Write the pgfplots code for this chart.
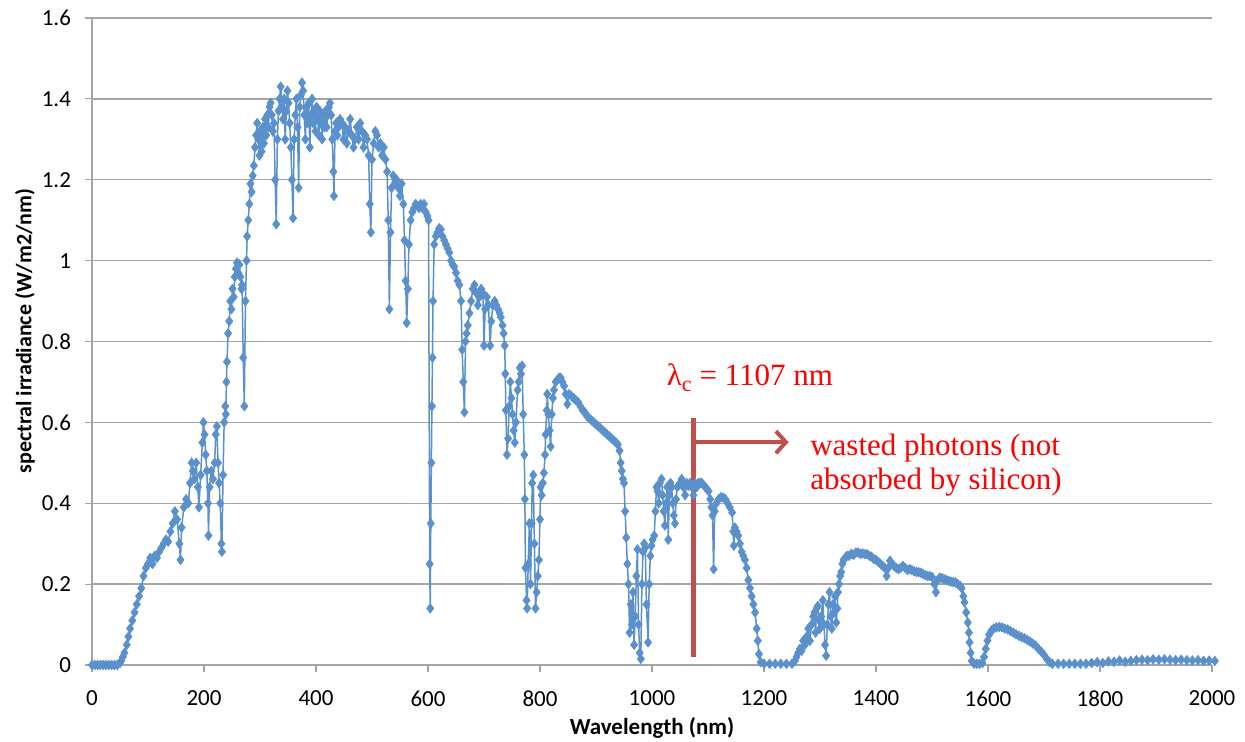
\documentclass[border=0pt]{standalone}
\usepackage{fontspec}
\setmainfont{Carlito}
\newfontfamily\annot{Liberation Serif}
\usepackage{pgfplots}
\pgfplotsset{compat=1.18}
\usetikzlibrary{arrows.meta}
\definecolor{serblue}{RGB}{90,145,205}
\definecolor{gridgray}{RGB}{165,165,165}
\definecolor{annred}{RGB}{192,80,77}
\begin{document}
\begin{tikzpicture}
\useasboundingbox (-46pt,-38.5pt) rectangle (576.5pt,332.5pt);
\begin{axis}[
  at={(0pt,0pt)}, anchor=south west,
  scale only axis, width=560pt, height=323.5pt,
  xmin=0, xmax=2000, ymin=0, ymax=1.6,
  xtick={0,200,...,2000}, ytick={0,0.2,...,1.6},
  /pgf/number format/1000 sep={},
  /pgf/number format/assume math mode=true,
  axis x line*=bottom, axis y line*=left,
  axis line style={gridgray, line width=0.7pt},
  tick align=outside, major tick length=3.5pt,
  tick style={gridgray, line width=0.6pt},
  ymajorgrids, grid style={gridgray, line width=0.7pt},
  tick label style={font=\fontsize{11.5}{13}\selectfont},
  xticklabel style={yshift=-6pt},
  yticklabel style={xshift=-3.5pt},
  clip=false,
]
\addplot[color=serblue, line width=0.75pt, mark=diamond*, mark size=2.4pt,
  mark options={fill=serblue, draw=serblue, line width=0.3pt}] table {
x y
0 0
5 0
10 0
15 0
20 0
25 0
30 0
35 0
40 0
45 0
50 0.005
52 0.01
55 0.02
58 0.03
62 0.05
65 0.07
68 0.09
72 0.11
76 0.13
80 0.15
84 0.17
88 0.19
92 0.22
96 0.24
100 0.25
104 0.265
108 0.25
112 0.27
116 0.265
120 0.28
124 0.29
128 0.30
132 0.31
136 0.305
140 0.33
144 0.35
148 0.38
152 0.36
156 0.30
158 0.26
160 0.34
164 0.39
168 0.41
172 0.40
175 0.45
178 0.50
180 0.48
183 0.46
186 0.50
189 0.44
191 0.39
194 0.47
197 0.55
199 0.60
201 0.57
203 0.52
205 0.48
207 0.40
208 0.32
210 0.44
213 0.48
216 0.46
219 0.50
221 0.57
223 0.59
225 0.50
227 0.45
229 0.40
231 0.30
232 0.28
234 0.47
236 0.60
238 0.64
239 0.62
240 0.70
241 0.75
243 0.82
245 0.85
247 0.90
249 0.88
251 0.93
253 0.91
255 0.96
257 0.98
259 0.995
261 0.97
263 0.99
265 0.96
267 0.93
268 0.94
270 0.76
272 0.64
274 0.90
276 1.00
277 1.06
279 1.10
281 1.14
283 1.19
285 1.17
287 1.21
289 1.235
291 1.28
293 1.31
295 1.34
297 1.30
299 1.26
301 1.32
303 1.27
305 1.33
307 1.29
309 1.35
311 1.31
313 1.36
315 1.33
317 1.38
319 1.39
321 1.36
323 1.32
325 1.34
327 1.20
329 1.09
331 1.30
333 1.37
335 1.40
337 1.43
339 1.38
341 1.35
343 1.40
345 1.30
347 1.37
349 1.42
351 1.39
353 1.34
355 1.28
357 1.20
359 1.105
361 1.30
363 1.36
365 1.40
367 1.33
369 1.18
371 1.38
373 1.41
375 1.44
377 1.42
379 1.36
381 1.30
383 1.38
385 1.34
387 1.39
389 1.28
391 1.36
393 1.40
395 1.34
397 1.37
399 1.32
401 1.38
403 1.35
405 1.31
407 1.37
409 1.34
411 1.30
413 1.36
415 1.33
417 1.37
419 1.33
421 1.36
423 1.38
425 1.39
427 1.36
429 1.30
431 1.22
432 1.16
434 1.32
436 1.34
438 1.31
440 1.33
443 1.35
446 1.34
449 1.30
452 1.33
455 1.29
458 1.32
461 1.35
464 1.31
467 1.28
470 1.30
473 1.33
476 1.30
479 1.34
482 1.32
485 1.28
488 1.31
491 1.30
494 1.26
496 1.14
498 1.07
500 1.25
503 1.29
506 1.32
509 1.31
512 1.28
515 1.29
518 1.26
521 1.28
524 1.25
527 1.22
529 1.10
531 0.88
533 1.07
535 1.18
538 1.21
541 1.19
544 1.20
547 1.18
550 1.16
553 1.19
556 1.14
558 1.05
560 0.95
562 0.846
564 0.93
566 1.04
569 1.10
572 1.12
575 1.13
578 1.14
581 1.135
584 1.13
587 1.14
590 1.13
593 1.14
596 1.12
599 1.11
601 1.10
603 0.25
604 0.14
605 0.35
606 0.50
607 0.64
608 0.76
609 0.90
611 1.04
614 1.06
617 1.07
620 1.08
623 1.077
626 1.06
629 1.05
632 1.04
635 1.03
638 1.02
641 1.00
644 0.99
647 0.985
650 0.97
653 0.95
656 0.94
659 0.90
661 0.78
663 0.70
665 0.625
667 0.80
669 0.82
671 0.84
674 0.87
677 0.90
680 0.93
683 0.94
686 0.92
689 0.89
692 0.91
695 0.93
698 0.92
700 0.79
702 0.88
705 0.91
708 0.89
711 0.79
713 0.85
716 0.89
719 0.90
722 0.89
725 0.88
728 0.87
730 0.86
733 0.84
735 0.82
737 0.79
738 0.72
739 0.63
741 0.52
743 0.56
745 0.64
747 0.70
749 0.66
751 0.62
753 0.58
755 0.55
757 0.60
760 0.68
762 0.70
764 0.735
766 0.72
768 0.74
770 0.62
772 0.52
773 0.41
774 0.24
776 0.16
777 0.14
779 0.25
781 0.35
783 0.20
785 0.35
786 0.45
788 0.47
790 0.30
792 0.14
794 0.18
796 0.22
798 0.26
800 0.36
801 0.44
803 0.42
805 0.45
807 0.475
809 0.52
810 0.57
812 0.63
813 0.67
815 0.62
817 0.58
819 0.54
821 0.62
823 0.66
825 0.68
828 0.70
831 0.705
834 0.71
837 0.71
840 0.70
843 0.69
846 0.67
849 0.645
852 0.67
856 0.665
860 0.66
864 0.655
868 0.65
872 0.64
876 0.63
880 0.625
884 0.615
888 0.61
892 0.605
896 0.60
900 0.595
904 0.59
908 0.585
912 0.58
916 0.575
920 0.57
924 0.565
928 0.56
932 0.555
936 0.55
939 0.545
942 0.53
944 0.50
946 0.48
948 0.46
950 0.45
952 0.38
954 0.315
956 0.25
958 0.20
960 0.08
962 0.15
964 0.10
966 0.18
968 0.05
970 0.12
972 0.22
974 0.286
976 0.10
978 0.03
980 0.015
982 0.20
984 0.28
986 0.30
988 0.29
990 0.15
993 0.056
995 0.20
997 0.27
999 0.295
1001 0.31
1004 0.32
1006 0.38
1008 0.44
1010 0.43
1012 0.40
1014 0.45
1017 0.46
1019 0.42
1021 0.38
1023 0.345
1025 0.40
1027 0.44
1029 0.31
1031 0.42
1033 0.45
1035 0.44
1037 0.40
1039 0.37
1041 0.35
1043 0.41
1045 0.44
1047 0.443
1050 0.45
1053 0.46
1056 0.44
1059 0.42
1062 0.45
1065 0.443
1068 0.45
1071 0.44
1074 0.42
1077 0.45
1080 0.44
1083 0.45
1086 0.45
1089 0.45
1092 0.445
1095 0.44
1098 0.435
1101 0.43
1104 0.41
1106 0.39
1108 0.37
1110 0.237
1112 0.38
1115 0.40
1119 0.41
1123 0.415
1127 0.414
1131 0.41
1135 0.40
1139 0.39
1143 0.377
1145 0.33
1146 0.295
1148 0.34
1151 0.33
1154 0.32
1157 0.30
1160 0.28
1163 0.27
1166 0.26
1169 0.24
1172 0.21
1175 0.19
1178 0.17
1181 0.15
1184 0.13
1187 0.09
1189 0.06
1191 0.027
1194 0.007
1200 0.003
1210 0.003
1220 0.003
1230 0.003
1240 0.003
1250 0.003
1255 0.01
1258 0.02
1261 0.03
1264 0.04
1267 0.035
1270 0.06
1273 0.05
1276 0.07
1279 0.09
1282 0.06
1285 0.10
1288 0.12
1290 0.13
1292 0.08
1294 0.14
1296 0.146
1298 0.11
1300 0.09
1302 0.12
1305 0.16
1307 0.10
1309 0.05
1311 0.023
1313 0.10
1315 0.15
1317 0.18
1319 0.12
1321 0.09
1323 0.15
1325 0.13
1327 0.17
1329 0.105
1331 0.14
1332 0.18
1334 0.20
1336 0.22
1338 0.23
1340 0.25
1342 0.26
1345 0.265
1348 0.27
1352 0.27
1356 0.275
1360 0.272
1364 0.278
1368 0.278
1372 0.275
1376 0.276
1380 0.274
1384 0.274
1388 0.27
1392 0.268
1396 0.262
1400 0.26
1404 0.255
1408 0.25
1412 0.245
1416 0.24
1419 0.22
1422 0.24
1425 0.258
1428 0.25
1432 0.245
1436 0.24
1440 0.237
1444 0.24
1448 0.245
1452 0.24
1456 0.235
1460 0.237
1464 0.235
1468 0.232
1472 0.23
1476 0.23
1480 0.228
1484 0.225
1488 0.222
1492 0.22
1496 0.22
1500 0.218
1504 0.20
1507 0.18
1510 0.21
1514 0.216
1518 0.215
1522 0.212
1526 0.21
1530 0.208
1534 0.206
1538 0.205
1542 0.204
1546 0.20
1550 0.196
1553 0.19
1556 0.17
1558 0.155
1561 0.13
1564 0.105
1566 0.08
1567 0.056
1569 0.03
1571 0.01
1575 0.003
1580 0.003
1585 0.003
1590 0.005
1593 0.02
1596 0.04
1599 0.06
1602 0.075
1606 0.085
1610 0.09
1615 0.093
1620 0.094
1625 0.093
1630 0.09
1635 0.088
1640 0.084
1645 0.08
1650 0.076
1655 0.072
1660 0.069
1665 0.066
1670 0.062
1675 0.058
1680 0.053
1685 0.048
1690 0.04
1695 0.033
1700 0.025
1705 0.015
1710 0.007
1715 0.003
1725 0.003
1735 0.003
1745 0.003
1755 0.003
1765 0.003
1775 0.003
1785 0.005
1795 0.007
1805 0.005
1815 0.009
1825 0.008
1835 0.011
1845 0.008
1855 0.01
1865 0.012
1875 0.013
1885 0.012
1895 0.014
1905 0.013
1915 0.014
1925 0.013
1935 0.012
1945 0.013
1955 0.012
1965 0.011
1975 0.012
1985 0.01
1995 0.011
2005 0.01
};
\draw[annred, line width=2.5pt] (axis cs:1074,0.02) -- (axis cs:1074,0.611);
\draw[annred, line width=2pt, -{Straight Barb[length=5pt,width=11pt]}] (axis cs:1074,0.551) -- (axis cs:1244,0.551);
\node[anchor=base west, inner sep=0pt, text=red, font=\annot\fontsize{15.5}{17}\selectfont] at (axis cs:1026,0.692) {λ\raisebox{-0.45ex}{\fontsize{11}{12}\selectfont c} = 1107 nm};
\node[anchor=base west, inner sep=0pt, text=red, font=\annot\fontsize{15.5}{17}\selectfont] at (axis cs:1282,0.519) {wasted photons (not};
\node[anchor=base west, inner sep=0pt, text=red, font=\annot\fontsize{15.5}{17}\selectfont] at (axis cs:1282,0.433) {absorbed by silicon)};
\end{axis}
\node[rotate=90, font=\bfseries\fontsize{11}{13}\selectfont] at (-33.5pt,167pt) {spectral irradiance (W/m2/nm)};
\node[font=\bfseries\fontsize{11.5}{13}\selectfont] at (280pt,-31.5pt) {Wavelength (nm)};
\end{tikzpicture}
\end{document}
